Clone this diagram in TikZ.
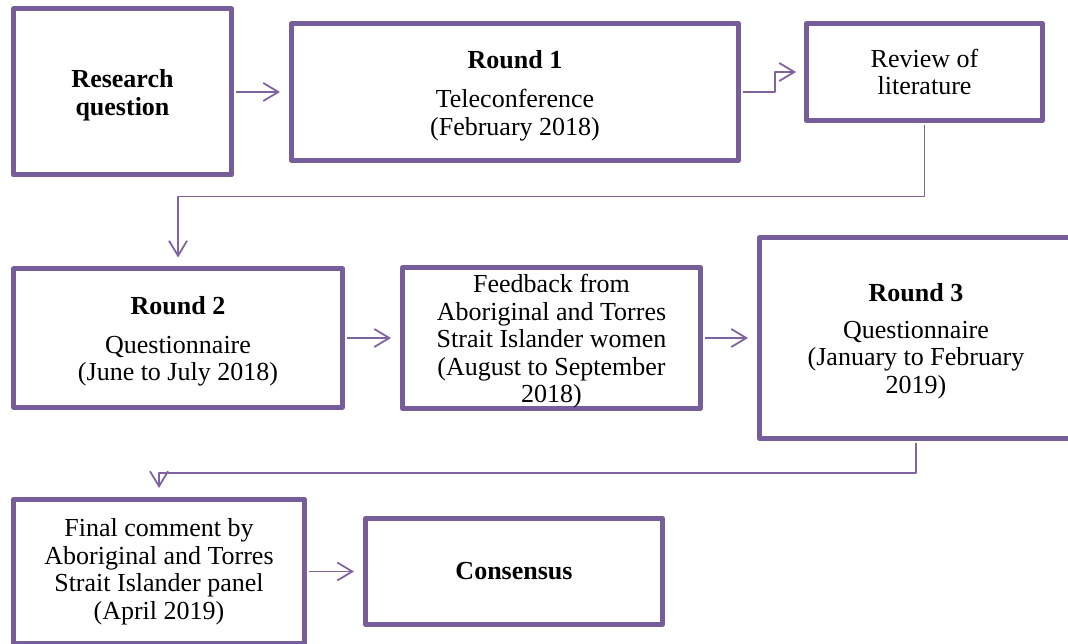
\documentclass[tikz,border=0pt]{standalone}
\usepackage{fontspec}
\setmainfont{Liberation Serif}
\usetikzlibrary{arrows.meta}
\definecolor{boxcol}{RGB}{118,94,154}
\definecolor{linecol}{RGB}{128,100,162}
\newcommand\topgap{\rule{0pt}{25pt}}
\begin{document}
\begin{tikzpicture}[x=1pt,y=-1pt,>={Straight Barb[length=15pt,width=18pt]},
	line join=round,
	box/.style={draw=boxcol,line width=5pt,rectangle,align=center,
		font=\fontsize{26}{27.5}\selectfont,inner sep=0pt},
	link/.style={draw=linecol,line width=1.8pt,->,shorten >=9pt,shorten <=2pt}]
	\clip (0,0) rectangle (1068,644);
	% boxes
	\node[box,minimum width=218,minimum height=166] (rq) at (122.5,92)
		{\topgap\bfseries Research\\\bfseries question};
	\node[box,minimum width=447,minimum height=137] (r1) at (515,92)
		{\topgap\bfseries Round 1\\[12pt]Teleconference\\(February 2018)};
	\node[box,minimum width=236,minimum height=97] (rev) at (924.5,72)
		{Review of\\literature};
	\node[box,minimum width=329,minimum height=138] (r2) at (178,338)
		{\topgap\bfseries Round 2\\[11pt]Questionnaire\\(June to July 2018)};
	\node[box,minimum width=298,minimum height=137] (fb) at (551.5,338)
		{\topgap Feedback from\\Aboriginal and Torres\\Strait Islander women\\(August to September\\2018)};
	\node[box,minimum width=313,minimum height=201] (r3) at (916,338)
		{\topgap\bfseries Round 3\\[9pt]Questionnaire\\(January to February\\2019)};
	\node[box,minimum width=291,minimum height=144] (fin) at (159,571.5)
		{Final comment by\\Aboriginal and Torres\\Strait Islander panel\\(April 2019)};
	\node[box,minimum width=297,minimum height=106] (cons) at (514,571.5)
		{\bfseries Consensus};
	% connectors
	\draw[link] (rq.east) -- (r1.west);
	\draw[link,shorten >=8pt] (r1.east) -- ++(34,0) |- (rev.west);
	\draw[link] (rev.south) -- ++(0,73.5) -| (r2.north);
	\draw[link] (r2.east) -- (fb.west);
	\draw[link] (fb.east) -- (r3.west);
	\draw[link] (r3.south) -- ++(0,32) -| (fin.north);
	\draw[link] (fin.east) -- (cons.west);
\end{tikzpicture}
\end{document}
